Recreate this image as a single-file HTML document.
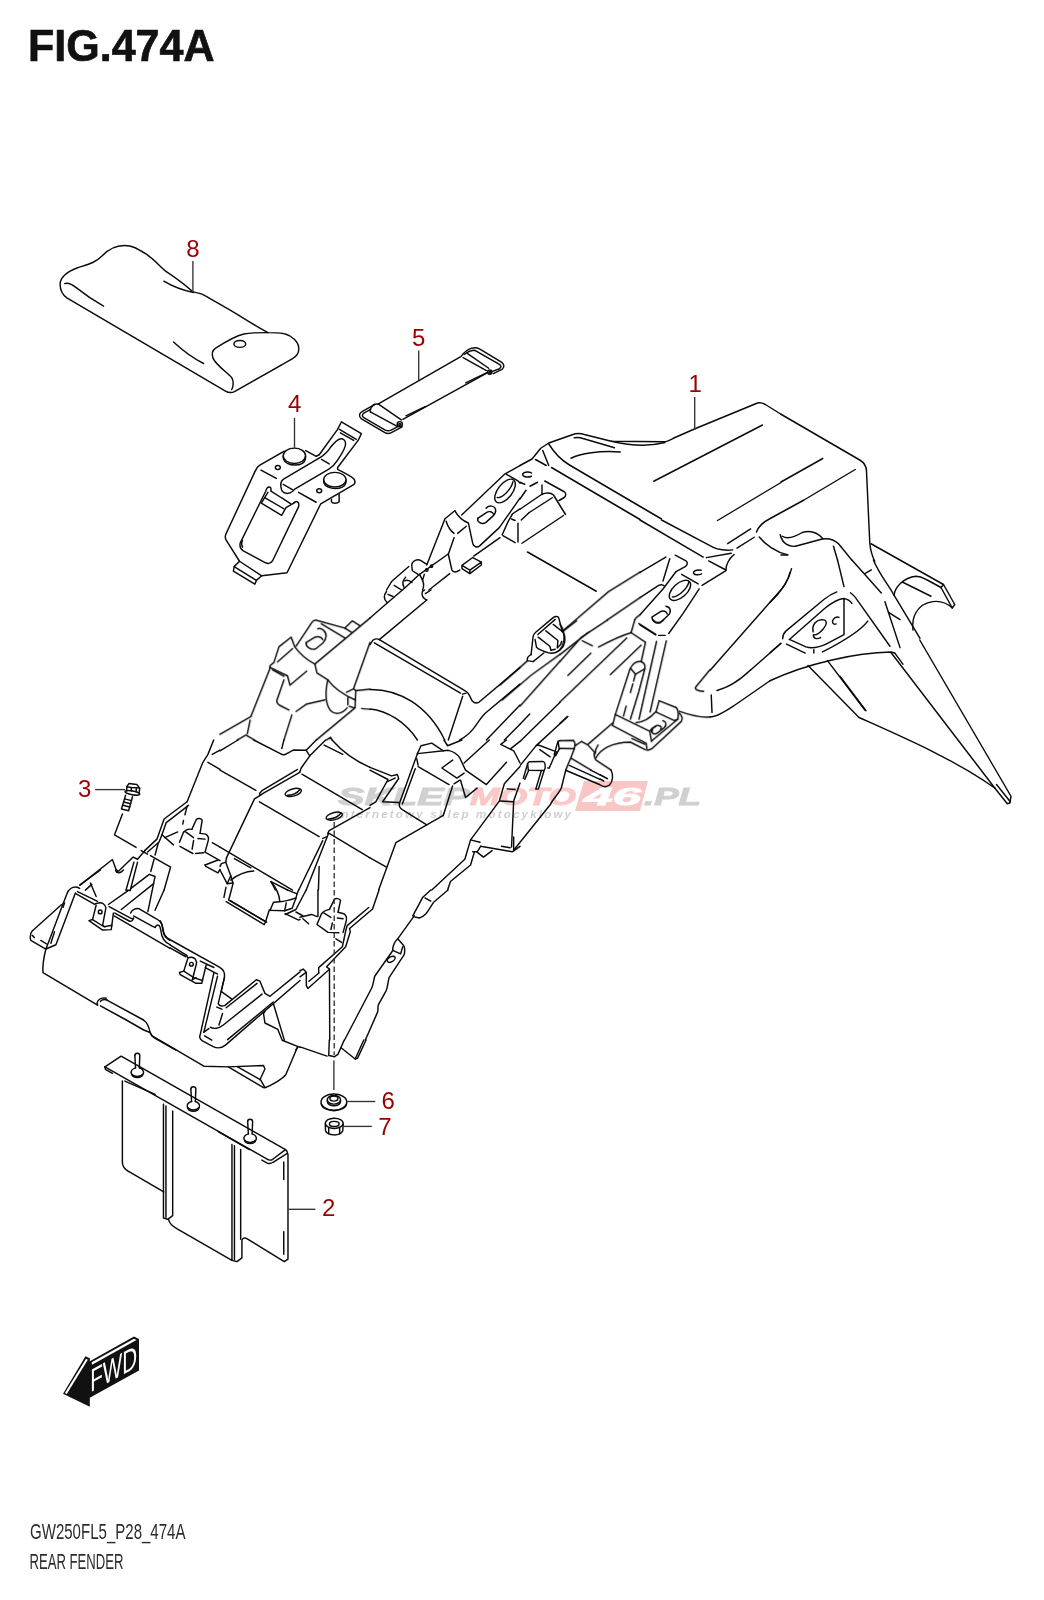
<!DOCTYPE html>
<html><head><meta charset="utf-8">
<style>
html,body{margin:0;padding:0;background:#fff;}
svg{display:block;}
.k path,.k ellipse,.k circle,.k line,.k polyline{fill:none;stroke:#0a0a0a;stroke-width:1.45;stroke-linecap:round;stroke-linejoin:round;vector-effect:non-scaling-stroke;}
.k .d{stroke-dasharray:9 4;}
.ll{stroke:#333;stroke-width:1.35;fill:none;}
.lb{font-family:"Liberation Sans",sans-serif;font-size:24px;fill:#990000;text-anchor:middle;}
</style></head><body>
<svg width="1044" height="1600" viewBox="0 0 1044 1600">
<defs><filter id="idf" filterUnits="userSpaceOnUse" x="0" y="0" width="1044" height="1600"><feOffset dx="0" dy="0"/></filter></defs>
<rect width="1044" height="1600" fill="#fff"/>
<g filter="url(#idf)">
<g font-family="Liberation Sans, sans-serif" font-style="italic" font-weight="bold">
<polygon points="584,781 648,781 640,811 575,811" fill="#f9c6c6"/>
<text x="338" y="805" font-size="24" textLength="132" lengthAdjust="spacingAndGlyphs" fill="#d0d0d0" stroke="#d0d0d0" stroke-width="0.9">SKLEP</text>
<text x="470" y="805" font-size="24" textLength="106" lengthAdjust="spacingAndGlyphs" fill="#fbc8c8" stroke="#fbc8c8" stroke-width="0.9">MOTO</text>
<text x="584" y="805" font-size="24" textLength="57" lengthAdjust="spacingAndGlyphs" fill="#ffffff" stroke="#ffffff" stroke-width="0.9">46</text>
<text x="644" y="805" font-size="24" textLength="57" lengthAdjust="spacingAndGlyphs" fill="#d0d0d0" stroke="#d0d0d0" stroke-width="0.9">.PL</text>
<text x="336" y="817.5" font-size="11.5" textLength="235" lengthAdjust="spacing" fill="#cfcfcf">internetowy sklep motocyklowy</text>
</g>
<!--TEXT-->
<text x="28" y="60.8" font-family="Liberation Sans, sans-serif" font-weight="bold" font-size="44" textLength="186.5" lengthAdjust="spacingAndGlyphs" fill="#111" stroke="#111" stroke-width="0.7">FIG.474A</text>
<text x="30" y="1538.7" font-family="Liberation Sans, sans-serif" font-size="21.6" textLength="155.5" lengthAdjust="spacingAndGlyphs" fill="#2c2c2c">GW250FL5_P28_474A</text>
<text x="29.5" y="1569.2" font-family="Liberation Sans, sans-serif" font-size="21.6" textLength="94" lengthAdjust="spacingAndGlyphs" fill="#2c2c2c">REAR FENDER</text>
<g class="k">
<!--P8-->
<g transform="translate(40,220) scale(0.26820)">
<path d="M75,240 C75,215 95,195 140,178 C180,165 205,160 230,135 C255,108 285,95 315,95 C345,95 360,105 400,130 C430,150 450,178 475,195 C500,212 540,240 570,268 C585,272 600,272 615,282 C650,303 700,330 740,355 C780,380 820,405 850,420 C880,420 900,420 915,425 C940,432 965,455 965,480 C965,500 955,510 940,518 L725,640 C715,645 700,643 690,637 L100,290 C85,280 75,265 75,240 Z"/>
<path d="M92,237 C105,232 120,240 135,252 C170,280 200,300 237,321"/>
<path d="M462,228 C490,245 530,262 572,270"/>
<path d="M498,455 C530,485 570,515 610,535"/>
<path d="M850,420 C820,420 790,420 760,425 C730,432 690,455 655,478 C640,488 640,500 645,515 C655,540 700,570 715,588 C722,600 722,620 715,632"/>
<ellipse cx="745" cy="462" rx="22" ry="13"/>
</g>
<g transform="translate(350,320) scale(0.15326)">
<path d="M185,548 L720,240"/>
<path d="M345,648 L895,345"/>
<path d="M365,625 L490,565"/>
<path d="M755,410 L890,345"/>
<path d="M160,552 L78,598 C60,608 55,628 75,645 L225,733 C240,742 255,742 270,735 L340,697"/>
<path d="M135,583 L90,608 C78,616 78,630 90,637 L230,718 C245,726 255,724 268,718 L318,692"/>
<path d="M140,568 C150,552 170,545 188,550 L335,652"/>
<path d="M133,600 L305,692"/>
<path d="M140,568 C132,580 130,590 133,600"/>
<circle cx="325" cy="680" r="17"/><circle cx="325" cy="682" r="7"/>
<path d="M725,238 C740,215 760,195 790,185 C815,178 830,180 845,188 L988,275 C1005,287 1010,305 995,320 L935,350"/>
<path d="M745,225 C765,210 790,198 815,198 L975,290 C988,298 988,310 975,318 L930,335"/>
<path d="M738,245 L890,330"/>
<path d="M765,218 L905,315"/>
<circle cx="912" cy="340" r="14"/><circle cx="912" cy="341" r="5"/>
</g>
<g transform="translate(215,385) scale(0.15326)">
<path d="M452,432 L290,525 C275,535 270,545 262,562 L70,975 C65,990 66,1000 72,1010 L160,1150 L125,1185 L120,1215 L260,1300 L270,1275 L305,1245 L470,1225 L690,775 L905,650 C915,640 915,625 905,612 C895,600 850,575 800,550 L800,538 L935,360 L955,318 L825,240 L800,290 L680,455 L660,465 L592,428"/>
<path d="M812,290 L922,355"/>
<path d="M818,312 L905,362"/>
<path d="M690,470 L450,612 C430,625 425,655 435,685 C445,710 480,715 505,695 L520,680 L740,550 C765,535 785,515 800,490 C825,450 850,420 852,385 C853,360 835,348 815,352 C795,356 775,380 755,405 C735,435 710,458 690,470"/>
<path d="M300,555 L400,610"/>
<path d="M445,648 L505,682"/>
<path d="M545,700 L660,765"/>
<path d="M695,485 L745,515"/>
<ellipse cx="518" cy="462" rx="73" ry="50"/>
<path d="M445,465 L447,483 C455,510 490,522 520,522 C555,522 585,508 590,483 L591,465"/>
<ellipse cx="782" cy="618" rx="73" ry="48"/>
<path d="M709,621 L711,639 C719,664 754,676 784,676 C819,676 849,662 854,639 L855,621"/>
<ellipse cx="410" cy="538" rx="16" ry="13"/>
<ellipse cx="680" cy="690" rx="16" ry="13"/>
<path d="M760,745 L760,762 C765,775 800,775 810,762 L810,712"/>
<path d="M350,668 C340,665 335,680 330,695 L165,1030 C160,1050 165,1070 185,1082 L330,1160 C350,1168 365,1165 375,1148 L545,795 C550,775 545,762 530,760 L515,768"/>
<path d="M178,1015 C172,1030 172,1045 180,1058"/>
<path d="M350,668 C360,662 368,668 365,690"/>
<path d="M345,700 L302,770 L435,850 L463,800 L520,768"/>
<path d="M327,737 L450,808"/>
<path d="M365,692 L495,775"/>
<path d="M160,1150 L305,1245"/>
<path d="M125,1185 L270,1275"/>
</g>
<g transform="translate(520,380) scale(0.25)"><!--R1b-->
<path d="M0,342 L48,316 L83,273 L115,252 L209,219 C225,213 242,213 257,218 L365,245 L575,247 C590,247 600,240 620,230 L700,195 L950,92 C960,90 970,92 980,97 L1044,137"/>
<path d="M217,231 C230,229 242,230 252,234 L378,271"/>
<path d="M365,245 C430,260 510,268 580,250"/>
<path d="M204,313 C240,294 320,281 401,288"/>
<path d="M115,256 C134,286 155,315 198,340 L566,556"/>
<path d="M126,350 L480,558"/>
<path d="M91,282 L115,342"/><path d="M62,318 L105,342"/>
<path d="M46,372 C38,366 16,366 11,375 C8,385 27,393 46,385"/>
<path d="M40,425 L70,409"/><path d="M0,409 L19,417"/><path d="M0,476 L24,441"/>
<path d="M99,404 L177,447 C185,452 185,463 177,470 L156,482"/>
<path d="M88,420 L88,458"/>
<path d="M0,517 L86,458 C102,450 123,450 134,460 L182,538"/>
<path d="M37,530 L129,471"/><path d="M5,560 L37,530"/>
<path d="M8,653 L174,542"/>
<path d="M30,688 L305,845"/>
<path d="M535,405 L970,180"/>
<path d="M790,562 L1044,410"/>
</g>
<g transform="translate(640,520) scale(0.14368)"><!--Z1-->
<path d="M150,0 L510,190 C540,205 600,215 645,208"/>
<path d="M0,0 L440,258"/>
<path d="M462,262 L635,232"/>
<path d="M478,285 L598,348"/><path d="M655,240 C625,265 600,300 598,348"/>
<path d="M598,352 L432,455"/>
<path d="M610,165 L770,62"/><path d="M675,195 L795,120"/>
<path d="M830,118 C870,170 950,225 1030,243"/>
<path d="M0,365 L180,258"/>
<path d="M245,245 L320,285 C335,295 330,315 315,325 L250,360"/>
<path d="M207,270 L160,425"/>
<path d="M0,540 L130,455 C145,448 160,450 170,460"/>
<path d="M0,660 L160,480 L250,360"/>
<path d="M425,350 C410,345 375,350 372,365 C372,385 410,385 428,375"/>
<path d="M290,378 L405,445"/>
<ellipse cx="278" cy="490" rx="90" ry="48" transform="rotate(-42 278 490)"/>
<path d="M225,535 C260,540 330,480 340,430"/>
<path d="M85,675 C80,700 110,725 140,715 L195,665 C220,640 215,605 180,600"/>
<path d="M85,675 L140,640 C160,628 185,635 190,655"/>
<path d="M412,480 L300,650 L200,790"/>
<path d="M0,730 L110,800"/><path d="M130,803 L175,803"/>
<path d="M1044,365 C1030,420 1000,470 960,510 L490,1044"/>
<path d="M980,860 L770,1044"/>
</g>
<g transform="translate(781,380) scale(0.25)"><!--R1c-->
<path d="M0,137 L315,320 C335,332 342,345 342,365 L355,650 C358,690 365,705 375,725"/>
<path d="M0,408 L167,314"/><path d="M-98,608 C-90,585 -65,565 -43,554 L92,480 L297,358"/>
<path d="M5,625 C30,640 60,625 85,610 C120,600 150,615 168,635"/>
<path d="M-3,619 C5,655 35,672 65,663 L165,636 C190,632 212,638 230,655 L283,720"/>
<path d="M210,665 L226,720"/>
<path d="M0,700 L25,700"/>
<path d="M360,655 L650,818 L695,898 L685,912 L640,830"/>
<path d="M650,818 L640,830"/>
<path d="M452,862 C455,830 490,790 540,785 C560,785 570,792 585,800 L640,830"/>
<path d="M485,808 L600,865"/>
<path d="M685,912 C640,870 570,880 540,930 C528,950 525,975 528,1000"/>
</g>
<g transform="translate(770,560) scale(0.14368)"><!--Z2-->
<path d="M150,60 C130,150 70,230 0,295"/>
<path d="M470,0 L515,185"/>
<path d="M570,0 L775,230"/><path d="M660,95 L705,68"/>
<path d="M720,0 C760,100 830,180 860,240 L1044,545"/>
<path d="M465,222 C430,235 400,255 375,275 L110,495 C95,510 88,525 88,548"/>
<path d="M560,228 C585,245 600,265 615,290 L835,600"/>
<path d="M800,290 L905,610"/><path d="M825,365 L905,415"/>
<path d="M135,553 L380,338 C420,305 470,270 515,268 C540,272 560,288 570,302"/>
<path d="M515,270 L515,520 L400,580 C350,605 300,620 250,605 L135,553"/>
<path d="M680,425 C640,480 560,540 365,640"/>
<path d="M115,585 L245,648"/><path d="M305,625 L305,648"/><path d="M0,645 L75,580"/>
<path d="M300,500 C290,450 320,420 360,415 C400,415 400,445 370,480 C345,510 320,525 302,520 C300,545 325,555 352,540"/>
<path d="M480,400 C465,390 440,405 435,425 C432,445 450,450 460,445"/>
<path d="M870,650 L925,725"/>
<path d="M400,700 L660,1044"/>
</g>
<g transform="translate(781,640) scale(0.25)"><!--R2c-->
<path d="M555,0 L920,625 L915,652 L905,655 L855,592"/>
<path d="M440,50 L855,592"/><path d="M862,578 L918,648"/>
<path d="M-44,163 C100,95 300,50 440,48 L455,52"/>
<path d="M108,102 L312,310 C480,385 700,480 855,592"/>
<path d="M236,145 L340,283"/>
</g>
<g transform="translate(560,600) scale(0.25)"><!--M1-->
<path d="M762,280 C730,310 690,345 628,362"/>
<path d="M605,380 L608,450"/>
<path d="M600,468 C630,468 670,440 700,420 L840,323"/>
</g>
<g transform="translate(560,620) scale(0.14368)"><!--Z3-->
<path d="M0,30 C20,50 35,100 25,150 C20,175 10,195 0,205"/><path d="M20,78 L115,5"/>
<path d="M0,288 L149,120 L330,0"/><path d="M0,240 L200,84"/>
<path d="M155,145 L225,180"/>
<path d="M55,385 L215,230"/>
<path d="M268,188 C340,150 420,110 495,88"/>
<path d="M495,88 L520,0"/>
<path d="M0,570 L465,125"/>
<path d="M350,380 L565,175"/>
<path d="M495,88 L595,155 L565,290"/>
<path d="M548,25 L665,100"/>
<path d="M650,0 C665,25 700,25 720,0"/>
<path d="M672,149 L550,690"/><path d="M740,145 L627,640"/>
<path d="M490,335 C510,300 540,285 565,290 C585,297 595,315 590,340 L525,377 L490,335"/>
<path d="M487,340 L385,658"/><path d="M590,340 L548,500 L490,690"/>
<path d="M524,380 L512,425"/><path d="M507,445 L490,505"/><path d="M460,600 L442,668"/>
<path d="M385,658 L365,735 L600,858 L605,895"/>
<path d="M385,658 L625,775 L637,845"/>
<path d="M625,775 C635,755 650,745 665,742"/>
<path d="M690,562 L810,610 C822,625 828,645 820,690 L640,840"/>
<path d="M690,562 L668,640 L795,700 L820,690"/>
<path d="M830,648 C850,665 855,690 845,705 L640,895 C625,905 610,908 595,903 L490,850 C360,850 280,900 250,960"/>
<path d="M500,825 L590,865"/>
<path d="M640,770 C635,790 660,800 680,785 L725,750 C745,730 740,705 715,700"/>
<path d="M640,770 C645,745 670,730 690,735 C705,738 710,750 700,762"/>
<path d="M530,715 C580,710 630,680 665,640"/>
<path d="M365,718 L195,865"/>
<path d="M150,845 L195,870 L240,920 C235,940 240,960 250,975 L355,1044"/>
<path d="M265,870 C250,890 245,910 245,930"/>
<path d="M0,840 L95,838 L105,860 L100,895 L0,893"/>
<path d="M100,895 L75,960 L40,1044"/><path d="M75,960 L215,1044"/><path d="M150,845 L105,875"/>
<path d="M0,720 L50,672"/>
<path d="M1044,345 L945,465 C935,485 960,495 1000,497"/>
<path d="M830,635 C900,660 980,680 1044,675"/>
</g>
<g transform="translate(370,440) scale(0.14368)"><!--Z5-->
<path d="M1044,178 L940,235 L638,522"/>
<path d="M950,240 L1030,285 L1044,300"/>
<ellipse cx="940" cy="355" rx="97" ry="50" transform="rotate(-52 940 355)"/>
<path d="M885,400 C920,410 985,340 995,290"/>
<path d="M750,545 C745,570 775,590 805,575 L855,530 C885,500 880,465 845,460 C830,458 815,465 808,475"/>
<path d="M750,545 L810,505 C830,492 855,500 860,518"/>
<path d="M590,492 L522,548 L395,870"/>
<path d="M590,492 C610,530 640,560 685,578 L715,720 C722,745 745,752 765,735 L900,610 L1044,405"/>
<path d="M990,515 L1044,480"/><path d="M920,660 L960,570 L990,518"/>
<path d="M985,550 L1010,560"/><path d="M925,665 L1010,715"/><path d="M1030,580 L1030,710"/>
<path d="M530,565 C540,600 560,630 585,650"/>
<path d="M610,650 L670,600"/>
<path d="M585,680 L545,795"/>
<path d="M545,795 L570,905 C580,925 600,920 625,905"/>
<path d="M542,795 L345,935 L240,1032"/>
<path d="M640,872 L715,818 L775,850 L775,870 L695,930 L640,895 L640,872 L695,905 L775,850"/><path d="M695,905 L695,930"/>
<path d="M905,680 L722,808"/>
<path d="M555,930 L410,1044"/>
<path d="M395,865 L355,840 C330,825 295,840 290,870 L295,910 L335,935"/>
<path d="M270,880 L150,985 L115,1044"/>
<circle cx="395" cy="905" r="9"/><circle cx="428" cy="878" r="8"/>
<path d="M345,935 L366,977 L378,935"/><path d="M366,977 C376,1000 374,1025 366,1044"/>
<path d="M248,956 C228,976 224,1000 236,1024"/><path d="M240,980 C256,972 276,976 292,992"/><path d="M168,1012 L220,1044"/>
</g>
<g transform="translate(370,590) scale(0.14368)"><!--Z6-->
<path d="M0,195 L120,90 L240,-12"/>
<path d="M120,88 C95,65 95,35 115,10"/><path d="M125,30 L160,45"/>
<path d="M395,70 L65,345"/>
<path d="M395,70 C370,60 355,35 365,10 L380,0"/><path d="M385,25 L425,0"/>
<path d="M65,345 C45,335 20,340 10,365 L0,380"/>
<path d="M65,345 L660,700 C680,710 690,725 700,750 C710,780 730,795 760,780 L1044,540"/>
<path d="M30,368 L630,718"/><path d="M645,725 L668,718"/>
<path d="M645,740 L545,1044"/>
<path d="M0,692 C200,690 400,800 520,1044"/>
<path d="M0,828 C120,840 250,920 330,1044"/>
<path d="M1044,655 L800,860 C770,890 740,940 720,965 C700,990 660,1025 625,1044"/>
<path d="M1044,800 L810,1044"/><path d="M1044,935 L935,1044"/>
</g>
<g transform="translate(220,590) scale(0.14368)"><!--Z7-->
<path d="M1044,195 L660,515"/>
<path d="M530,390 L640,225 C648,212 655,208 668,210 L868,265 L920,215 L972,247"/>
<path d="M868,265 L915,295"/>
<path d="M705,235 L870,335"/>
<path d="M520,395 C560,450 610,490 660,515"/>
<path d="M600,365 C595,395 630,420 665,410 L715,370 C745,340 745,300 720,280 C710,270 690,265 680,270"/>
<path d="M600,365 L650,335 C680,318 705,325 715,345"/>
<path d="M520,395 L495,328 L410,395 L375,505 L350,525 L345,540"/>
<path d="M400,500 L505,408"/>
<path d="M350,540 L215,880"/>
<path d="M350,540 L470,598 L487,662 L603,565"/><path d="M365,555 L445,600"/>
<path d="M445,625 L395,770 C395,785 400,795 420,805 L480,835"/>
<path d="M530,845 L600,795 L730,765"/>
<path d="M660,515 L675,578 L750,625"/>
<path d="M750,625 C730,720 730,790 770,840 C800,870 850,865 885,820"/>
<path d="M750,625 C790,680 850,725 940,765"/>
<path d="M1044,365 L930,685"/>
<path d="M880,712 L930,688 L945,700 L940,820 L670,1044"/>
<path d="M945,700 L1044,690"/><path d="M890,745 L890,800"/><path d="M900,810 L935,820"/><path d="M985,825 L1044,830"/>
<path d="M215,880 L0,1005"/>
<path d="M210,905 L190,1000"/>
<path d="M120,1044 L180,1010 L240,1044"/>
<path d="M500,870 L445,1044"/>
<path d="M740,1044 L770,1025 L780,1044"/>
</g>
<g transform="translate(500,550) scale(0.14368)"><!--Z8-->
<path d="M974,154 L755,290 L440,560"/>
<path d="M974,331 L747,487"/>
<path d="M417,727 L218,870 L15,1044"/>
<path d="M417,775 L140,1086"/>
<path d="M937,487 C945,470 955,462 974,451"/>
<path d="M0,940 L190,772"/>
</g>
<g transform="translate(370,740) scale(0.14368)"><!--Z9-->
<path d="M330,95 L355,40 L430,22 L510,75"/>
<path d="M330,95 L545,72 C580,80 610,100 625,125 L665,210 L810,310 L950,155"/>
<path d="M515,0 L540,40 L640,0"/>
<path d="M655,160 L830,0"/>
<path d="M575,140 L500,195 L605,265 L655,230"/>
<path d="M330,95 L205,440 C200,460 210,475 225,485 L395,590 L510,525 L575,320"/>
<path d="M325,130 L335,175"/><path d="M315,200 L225,445"/>
<path d="M335,185 L550,310"/><path d="M585,305 L625,280"/>
<path d="M630,280 L665,400 L745,335"/>
<path d="M0,190 L150,250 L190,240 L200,268 L88,430 L200,435"/>
<path d="M0,210 L125,275 L40,430 L0,455"/><path d="M120,290 L175,265"/>
<path d="M395,590 L180,715 L60,1044"/>
<path d="M0,820 L115,885"/>
<path d="M950,0 L910,30 L1000,75 L1044,160"/><path d="M980,60 L1044,10"/>
<path d="M1044,185 L935,305 L900,425 L700,695"/>
<path d="M905,425 L1000,430"/><path d="M955,340 L1010,345"/>
<path d="M1044,300 L1000,425 L985,745"/>
<path d="M700,695 L660,830 L430,1044"/>
<path d="M700,695 L765,712"/><path d="M770,740 L990,778 L1044,740"/><path d="M915,740 L975,750"/>
<path d="M1000,675 L1000,770"/>
<path d="M770,740 L745,780 L790,815 L850,770"/><path d="M715,778 L745,778"/>
<path d="M725,785 L700,870 L560,985 L540,1044"/>
</g>
<g transform="translate(220,740) scale(0.14368)"><!--Z10-->
<path d="M0,75 L125,0"/>
<path d="M235,0 L420,95 C435,105 450,105 465,95 L510,70 L600,72"/>
<path d="M445,0 L430,60"/>
<path d="M600,72 L670,0"/><path d="M600,72 L625,110 L735,0"/>
<path d="M625,110 L565,195 L555,225"/>
<path d="M555,225 L300,372 L280,385"/><path d="M540,205 L295,350 L275,372 L280,385"/>
<path d="M280,385 L240,410 L45,820"/>
<path d="M0,210 L250,350"/>
<path d="M570,238 L990,485"/>
<path d="M725,35 L855,100"/>
<path d="M780,0 C850,80 950,150 1044,190"/>
<ellipse cx="510" cy="365" rx="58" ry="25" transform="rotate(-15 510 365)"/><path d="M470,385 C500,385 540,370 555,345"/>
<ellipse cx="795" cy="530" rx="58" ry="25" transform="rotate(-15 795 530)"/><path d="M755,550 C785,550 825,535 840,510"/>
<path d="M275,430 L690,672"/><path d="M715,685 L745,672"/>
<path d="M1044,470 L760,630 L750,650"/>
<path d="M760,650 L1044,820"/>
<path d="M715,700 L548,1044"/><path d="M755,650 L600,1044"/>
<path d="M690,880 L685,1044"/>
<path d="M0,745 L505,1044"/>
<path d="M100,825 L215,890"/>
<path d="M235,912 C180,915 120,940 75,975"/>
<path d="M355,985 L470,1044"/><path d="M355,985 L385,1044"/>
<path d="M45,820 L40,850 L10,860 L0,880"/><path d="M40,850 L75,945 L50,1000 L0,905"/>
<path d="M50,1000 L90,995"/><path d="M75,945 L90,995"/>
</g>
<g transform="translate(70,740) scale(0.14368)"><!--Z11-->
<path d="M395,325 L410,303 L465,310 L485,335 L482,365"/><path d="M395,325 L395,352"/><path d="M425,330 L428,355"/><path d="M462,332 L460,360"/>
<path d="M395,325 L425,330 L462,332 L485,335"/>
<ellipse cx="434" cy="368" rx="52" ry="13" transform="rotate(10 434 368)"/>
<path d="M387,385 L358,480 L408,492 L435,395"/>
<path d="M380,410 L428,422"/><path d="M374,432 L422,444"/><path d="M368,454 L416,466"/>
<path d="M365,515 L310,660 L460,748"/>
<path d="M495,770 L540,795"/><path d="M560,805 L700,885 L655,1044"/>
<path d="M1000,0 L960,100 L925,155 L815,430"/>
<path d="M990,100 L1044,70"/><path d="M960,155 L1044,205"/>
<path d="M815,430 L655,550 L605,690 L520,770"/>
<path d="M825,455 L670,575 L640,660 L620,710 L540,780"/>
<path d="M815,460 L800,520"/><path d="M790,560 L785,585"/>
<path d="M640,660 L720,730"/><path d="M660,680 L750,640"/>
<path d="M848,622 L880,552 C890,542 912,545 920,558 L905,650"/>
<path d="M790,642 C805,625 830,618 848,622"/>
<path d="M790,642 L762,712"/>
<path d="M805,640 L860,680"/><path d="M890,685 L940,690"/>
<path d="M905,650 L945,655 C960,665 968,680 962,700 L940,780"/>
<path d="M860,700 L850,760"/>
<path d="M765,740 L855,790"/><path d="M875,790 L930,785"/>
<path d="M940,780 L1044,840"/><path d="M990,715 L1044,745"/>
<path d="M940,870 L1030,835"/><path d="M940,870 L945,880 L1030,925 L1044,900"/>
<path d="M70,1010 L295,832 L320,900 L335,915 L440,815 L470,830 L525,765"/>
<path d="M445,850 L390,1044"/><path d="M470,850 L420,1044"/>
<path d="M615,715 L592,800"/><path d="M585,830 L562,915"/><path d="M390,1044 L420,1048"/>
</g>
<g transform="translate(20,870) scale(0.14368)"><!--Z12-->
<path d="M290,240 L85,425 C72,440 70,470 75,490 L180,550"/>
<path d="M85,455 L100,470"/><path d="M145,490 L185,515"/>
<path d="M300,235 L325,170 C335,135 365,112 400,120 L415,128"/>
<path d="M300,235 L200,500 L180,550 L250,520 L385,162"/>
<path d="M310,230 L300,260"/><path d="M240,430 L215,510"/>
<path d="M400,150 L540,218"/><path d="M385,162 L520,240"/>
<path d="M620,255 L770,335 C780,340 788,340 790,335"/>
<path d="M660,300 L760,355 C775,360 788,352 790,335"/>
<path d="M655,320 L1044,545"/>
<path d="M770,300 C780,275 810,262 830,270 L940,335 C960,345 985,360 990,390 C995,430 1000,470 1044,490"/>
<path d="M790,320 L920,390 L940,400"/>
<path d="M940,400 C955,370 975,380 980,420 C985,470 1000,500 1044,520"/>
<path d="M525,235 L545,230 C565,222 590,235 598,262 L575,385"/>
<path d="M530,245 L505,345 L480,352 L575,418 L635,415 L650,300"/>
<path d="M505,345 L585,395 L640,385"/><path d="M575,385 L590,395"/>
<circle cx="558" cy="292" r="13"/>
<path d="M180,550 C165,610 155,660 160,715 L540,940"/>
<path d="M540,940 C530,920 545,895 580,890 L600,892"/><path d="M560,915 C565,900 590,900 605,905"/>
<path d="M560,945 L740,1044"/><path d="M605,905 L860,1044"/>
<path d="M415,105 L560,0"/><path d="M455,140 L500,100"/><path d="M490,90 L530,185"/>
<path d="M615,240 L750,145"/>
<path d="M770,130 L900,30 L940,45 L890,290"/>
<path d="M705,275 L930,95"/>
<path d="M940,280 L1003,139"/>
<path d="M665,0 C670,25 700,25 720,0"/>
</g>
<g transform="translate(150,900) scale(0.14368)"><!--Z13-->
<path d="M70,145 C85,160 90,200 95,225 C100,250 110,258 125,268 L480,465 C510,482 525,505 518,540 L495,640"/>
<path d="M139,312 L255,385"/>
<path d="M139,333 L250,395"/>
<path d="M350,425 L445,470"/><path d="M385,470 L450,505 L470,515"/>
<path d="M255,385 L265,405 C275,395 300,395 315,410 L325,435 L295,555"/>
<path d="M262,410 L235,495 L205,505 L210,520 L320,580 L360,580 L365,560 L390,455 L400,450"/>
<path d="M235,495 L305,540 L365,560"/><path d="M295,555 L320,540"/>
<circle cx="288" cy="447" r="13"/>
<path d="M445,505 L350,935 C340,955 350,970 365,980 L440,1020 C470,1035 500,1030 525,1010 L1044,560"/>
<path d="M470,530 L375,920"/>
<path d="M518,540 L475,720 C480,735 500,740 520,735 L740,555 L765,565 L800,650 L835,670 L1044,500"/>
<path d="M500,640 L570,690"/>
<path d="M465,745 L500,760"/><path d="M505,790 L480,870"/>
<path d="M420,885 C440,900 480,895 510,870 L780,655"/>
<path d="M530,750 L745,580"/>
<path d="M375,920 L410,895"/><path d="M380,945 L430,975"/>
<path d="M540,972 L858,710"/>
<path d="M800,775 L790,791 L800,856 L890,901 L920,976 L1044,1026"/>
<path d="M860,725 L935,975"/>
<path d="M1015,1044 L1030,1020"/>
<path d="M530,12 L795,172 L805,150"/><path d="M560,5 L800,148"/>
<path d="M805,150 L830,70"/>
<path d="M940,95 L1035,140 L1044,135"/>
<path d="M0,920 C5,940 15,950 30,960 L180,1044"/>
</g>
<g transform="translate(300,890) scale(0.14368)"><!--Z14-->
<path d="M550,0 L505,132 L345,268 L350,290 L318,395 L185,535 L205,550 L207,1044"/>
<path d="M478,122 L328,248 L318,285 L295,395 L130,540 L130,575"/>
<path d="M205,135 L240,65 C250,55 275,60 282,72 L265,155"/>
<path d="M150,165 C165,145 190,138 205,135"/>
<path d="M265,155 L305,165 C320,175 328,190 322,215 L300,295"/>
<path d="M150,165 L118,240 L195,295 L270,298"/>
<path d="M165,160 L215,190"/><path d="M260,195 L300,200"/><path d="M225,230 L215,275"/>
<path d="M125,0 L125,185"/><path d="M0,190 L80,170 L120,185"/><path d="M20,200 L60,235"/><path d="M250,340 L290,365"/>
<path d="M0,562 L22,550 L44,572 L44,665 L55,685 L205,552"/><path d="M0,605 L40,575"/><path d="M62,635 L132,578"/>
<path d="M1030,0 L930,85 C900,130 880,180 830,195 L790,185"/>
<path d="M910,0 L855,50 L785,180"/><path d="M870,55 L910,78"/>
<path d="M795,180 L680,340"/>
<path d="M680,340 C660,360 645,390 645,420 L640,430 L520,600 C510,640 510,660 500,680 L310,1044"/>
<path d="M680,340 L720,385 C730,400 730,430 725,450 L620,610 C610,650 610,680 600,700 L545,800 C540,820 545,840 540,850 L455,1044"/>
<path d="M645,420 L700,445 L715,395"/>
<ellipse cx="635" cy="482" rx="30" ry="17" transform="rotate(-30 635 482)"/>
</g>
<g transform="translate(450,690) scale(0.14368)"><!--Z15-->
<path d="M555,167 L487,239"/>
<path d="M487,358 L766,85"/>
<path d="M820,185 L600,387 L490,523"/>
<path d="M540,512 L550,500 L645,497 C658,500 665,515 662,545 L655,560 L545,558 Z"/>
<path d="M540,515 L510,615"/><path d="M548,558 L520,622"/>
<path d="M655,560 L615,690 L597,690 L636,560"/>
<path d="M766,353 L752,356 L760,410 L766,408"/>
<path d="M750,362 L725,450"/><path d="M760,412 L735,458"/>
<path d="M806,557 L775,680 C760,720 715,760 700,795 L443,1115"/>
<path d="M980,557 L1044,590"/><path d="M830,525 L1044,622"/>
<path d="M600,387 L615,383 L728,425"/><path d="M625,415 L697,465"/><path d="M740,430 L690,545 L680,542"/>
<path d="M809,560 L1040,658"/>
</g>
<g transform="translate(560,600) scale(0.25)"><!--M1b-->
<path d="M204,680 C214,700 212,725 198,740 C188,748 172,748 158,738"/>
<path d="M160,699 L190,715"/><path d="M160,716 L175,724"/>
</g>
<g transform="translate(150,990) scale(0.14368)"><!--Z17-->
<path d="M0,295 L15,320 L375,530 L545,535 L790,525 L800,550 L765,625"/>
<path d="M545,535 L790,680"/><path d="M610,535 L770,625 L800,680"/>
<path d="M800,680 C850,660 920,620 945,590 L1025,400"/>
</g>
<g transform="translate(90,1040) scale(0.24904)"><!--P2-->
<path d="M60,108 L125,65 L785,440 C792,445 795,452 795,460 L795,880 L780,890 L630,798 C620,792 612,795 610,805 L610,875 L590,890 L570,885"/>
<path d="M690,482 L712,494 C720,498 728,496 735,491 L792,455"/><path d="M60,108 L62,118 L90,134"/>
<path d="M60,108 L715,480 C722,484 728,483 735,478 L785,440"/>
<path d="M778,490 L778,560"/><path d="M778,770 L778,860"/>
<path d="M130,165 L130,490 C130,510 140,520 155,528 L296,610"/>
<path d="M140,165 L262,218"/>
<path d="M295,258 L295,715 L312,720 L332,705 L332,285"/><path d="M305,265 L305,712"/>
<path d="M315,720 C320,740 335,750 350,758 L570,885 L570,420"/>
<path d="M580,425 L580,882"/><path d="M605,440 L605,800"/>
<path d="M515,368 L640,440"/>
<g id="bolt"><path d="M180,62 C180,50 200,50 200,62 L198,112"/><path d="M180,62 L183,112"/><path d="M183,112 C170,115 162,125 166,135 C175,150 205,150 214,135 C218,125 210,115 198,112"/><path d="M168,138 C172,155 208,155 212,138"/></g>
<use href="#bolt" x="225" y="135"/><use href="#bolt" x="453" y="265"/>
</g>
<g transform="translate(300,1040) scale(0.11494)"><!--N-->
<ellipse cx="295" cy="540" rx="112" ry="70"/><path d="M185,555 C200,635 390,635 405,555"/>
<ellipse cx="295" cy="520" rx="58" ry="38"/><path d="M237,525 L240,545 C255,580 335,580 350,545 L353,525"/>
<ellipse cx="295" cy="510" rx="35" ry="22"/>
<ellipse cx="298" cy="725" rx="78" ry="45"/><ellipse cx="298" cy="730" rx="42" ry="22"/>
<path d="M220,730 L222,790 C240,835 350,840 372,790 L376,730"/><path d="M250,765 L250,815"/><path d="M345,765 L345,815"/>
<path d="M0,60 L235,140"/><path d="M255,0 L250,135 L300,145 L330,125 L385,0"/>
<path d="M360,70 L480,165 L500,160 L575,0"/><path d="M480,165 L555,0"/>
</g>
<g transform="translate(20,860) scale(0.25)"><!--R3a-->
<path d="M425,640 L495,680 L520,690"/>
<path d="M494,640 C508,650 516,665 520,690"/>
</g>
<g transform="translate(210,850) scale(0.12452)"><!--Z19-->
<path d="M185,270 L150,402 L455,580"/>
<path d="M128,300 L112,380"/>
<path d="M482,485 L510,420 L560,415 C600,415 650,400 690,385"/>
<path d="M482,485 L600,488 L660,468 L688,392"/>
<path d="M600,488 L612,425"/>
<path d="M490,255 C530,300 555,350 560,410"/>
<path d="M620,320 L700,352"/>
<path d="M712,321 L700,350 L688,395"/>
<path d="M772,321 L690,478 L605,518"/>
<path d="M690,498 L745,528"/>
</g>
<g transform="translate(515,605) scale(0.06705)"><!--ZC-->
<path d="M240,740 L270,470 C275,440 285,425 305,410 L560,195 C590,170 630,160 650,185 L705,395"/>
<path d="M340,440 L600,215"/>
<path d="M705,395 C740,430 750,480 740,560 C725,640 640,720 540,720 C470,715 420,690 350,655 L320,630 L300,515"/>
<path d="M345,480 L520,615 L535,675 L600,660"/>
<path d="M460,385 L640,530 L630,640 L680,590 L695,545"/>
<path d="M570,290 L705,395"/>
<path d="M240,740 C200,760 175,790 185,830 L270,845 L430,715"/>
</g>
<!--FENDER-->
</g>
<!--LABELS-->
<path class="ll" d="M192.9,261 V292"/>
<text class="lb" x="193" y="256.8">8</text>
<path class="ll" d="M418.7,350.6 V380"/>
<text class="lb" x="418.7" y="345.8">5</text>
<path class="ll" d="M294.5,418 V448"/>
<text class="lb" x="294.7" y="412.3">4</text>
<path class="ll" d="M694.7,397 V430"/>
<text class="lb" x="695.2" y="391.6">1</text>
<path class="ll" d="M288.5,1209.3 H315.4"/>
<text class="lb" x="328.6" y="1216.3">2</text>
<path class="ll" d="M95.1,789.6 H125.3"/>
<text class="lb" x="84.8" y="796.8">3</text>
<path class="ll" d="M347.1,1101.5 H375.3"/>
<text class="lb" x="388.3" y="1108.7">6</text>
<path class="ll" d="M343.4,1126.4 H371.8"/>
<text class="lb" x="385" y="1134.5">7</text>
<path class="ll" d="M333.9,1060.5 V1090"/>
<path class="ll" d="M334.2,822 V1055" stroke-dasharray="5.5 3" stroke-width="1.2"/>
<g transform="translate(40,1310) scale(0.12452)">
<polygon points="185,672 365,372 400,388 400,412 755,213 795,232 795,485 400,705 400,777" fill="#111"/>
<polygon points="415,420 755,230 775,240 418,440" fill="#fff"/>
<polygon points="370,392 384,399 215,674 200,667" fill="#fff"/>
</g>
<text transform="translate(90.2,1392.5) skewY(-28.7)" font-family="Liberation Sans, sans-serif" font-size="32" textLength="47" lengthAdjust="spacingAndGlyphs" fill="#fff">FWD</text>

</g>
</svg>
</body></html>
